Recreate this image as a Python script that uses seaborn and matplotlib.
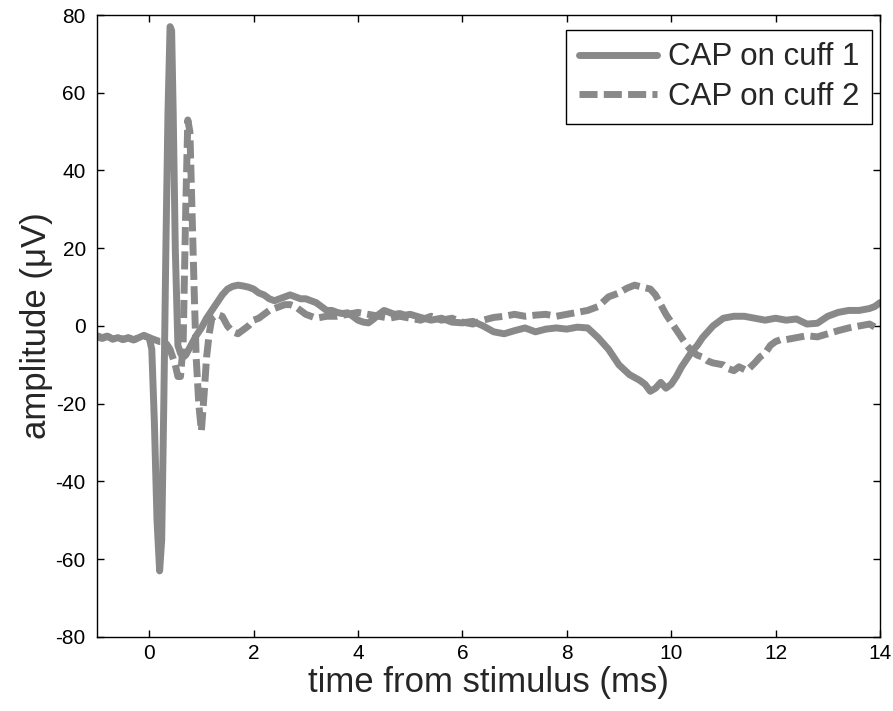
import numpy as np
import pandas as pd
import seaborn as sns
import matplotlib
matplotlib.use("Agg")
import matplotlib.pyplot as plt

# ---- data ----
t_cuff1 = [-1.0, -0.9, -0.8, -0.7, -0.6, -0.5, -0.4, -0.3, -0.2, -0.1, 0.0, 0.05, 0.1, 0.15, 0.2,
           0.24, 0.28, 0.32, 0.36, 0.4, 0.43, 0.46, 0.5, 0.55, 0.6, 0.65, 0.7, 0.8, 0.9, 1.0,
           1.1, 1.2, 1.3, 1.4, 1.5, 1.6, 1.7, 1.8, 1.9, 2.0, 2.1, 2.2, 2.3, 2.4, 2.5, 2.6, 2.7,
           2.8, 2.9, 3.0, 3.1, 3.2, 3.3, 3.4, 3.5, 3.6, 3.7, 3.8, 3.9, 4.0, 4.1, 4.2, 4.3, 4.4,
           4.5, 4.6, 4.7, 4.8, 4.9, 5.0, 5.2, 5.4, 5.6, 5.8, 6.0, 6.2, 6.4, 6.6, 6.8, 7.0, 7.2,
           7.4, 7.6, 7.8, 8.0, 8.2, 8.4, 8.6, 8.8, 9.0, 9.2, 9.4, 9.5, 9.6, 9.7, 9.8, 9.9, 10.0,
           10.1, 10.2, 10.3, 10.4, 10.5, 10.6, 10.7, 10.8, 10.9, 11.0, 11.2, 11.4, 11.6, 11.8,
           12.0, 12.2, 12.4, 12.6, 12.8, 13.0, 13.2, 13.4, 13.6, 13.8, 13.9, 14.0]
v_cuff1 = [-2.5, -3.0, -2.6, -3.4, -3.0, -3.5, -3.1, -3.6, -3.0, -2.4, -3.0, -6, -25, -50, -63,
           -55, -20, 20, 55, 77, 76, 55, 20, -5, -7, -8, -7.5, -5, -2.5, -0.5,
           2, 4, 6, 8, 9.5, 10.2, 10.5, 10.3, 10, 9.5, 8.5, 8, 7, 6.5, 7, 7.5, 8,
           7.5, 7, 7, 6.5, 6, 5, 4, 4, 3.5, 3.2, 3.4, 2.5, 1.5, 1, 0.8, 1.8, 3,
           4, 3.5, 3, 3.2, 2.8, 3, 2.2, 1.5, 2, 1, 0.8, 1.2, 0, -1.5, -2, -1.2, -0.5,
           -1.5, -0.8, -0.5, -0.8, -0.3, -0.5, -3, -6, -10, -12.5, -14, -15, -16.8, -16, -14.5, -16, -15,
           -13, -10.5, -8.5, -6.5, -5, -3, -1.5, 0, 1, 2, 2.5, 2.5, 2, 1.5,
           2, 1.5, 1.8, 0.5, 0.7, 2.5, 3.5, 4, 4, 4.5, 5, 6]

t_cuff2 = [-1.0, -0.9, -0.8, -0.7, -0.6, -0.5, -0.4, -0.3, -0.2, -0.1, 0.0, 0.1, 0.2, 0.3, 0.4,
           0.5, 0.55, 0.6, 0.65, 0.7, 0.74, 0.78, 0.82, 0.86, 0.9, 0.95, 1.0, 1.05, 1.1, 1.15,
           1.2, 1.3, 1.4, 1.5, 1.6, 1.7, 1.8, 1.9, 2.0, 2.1, 2.2, 2.3, 2.4, 2.5, 2.6, 2.7, 2.8,
           2.9, 3.0, 3.2, 3.4, 3.6, 3.8, 4.0, 4.2, 4.4, 4.6, 4.8, 5.0, 5.2, 5.4, 5.6, 5.8, 6.0,
           6.2, 6.4, 6.6, 6.8, 7.0, 7.2, 7.4, 7.6, 7.8, 8.0, 8.2, 8.4, 8.6, 8.8, 9.0, 9.15, 9.3,
           9.45, 9.6, 9.7, 9.8, 9.9, 10.0, 10.1, 10.2, 10.3, 10.4, 10.5, 10.6, 10.7, 10.8, 11.0,
           11.1, 11.2, 11.3, 11.45, 11.6, 11.7, 11.8, 11.9, 12.0, 12.1, 12.2, 12.4, 12.6, 12.8,
           13.0, 13.2, 13.4, 13.6, 13.8, 14.0]
v_cuff2 = [-2.8, -3.2, -2.7, -3.3, -3.1, -3.4, -3.0, -3.5, -3.1, -2.6, -3.0, -3.5, -4, -4, -6,
           -10, -13, -13, -5, 30, 53, 50, 30, 10, -8, -20, -27, -18, -8, -2,
           2, 3, 2.5, 0, -1.5, -2, -1, 0, 1.5, 2, 3, 4, 4.5, 5, 5.5, 5.5, 5,
           4, 3, 2, 2.5, 2.5, 3, 3.5, 3, 2.5, 2, 2.5, 2, 1.5, 2.5, 1.5, 2, 1,
           0.5, 1.5, 2.2, 2.5, 3, 2.5, 2.8, 3, 2.5, 3, 3.5, 4, 5, 7.5, 8.5, 9.7, 10.5,
           10, 9.5, 8, 5.5, 3, 1, -1, -3, -5, -6.5, -7.5, -8, -9, -9.5, -10,
           -11, -11.5, -10.5, -11.5, -9.5, -8, -7, -5, -4, -3.5, -3.5, -3, -2.5, -2.8,
           -2, -1.2, -0.5, 0, 0.5, -1]

x_ticks = [0, 2, 4, 6, 8, 10, 12, 14]
y_ticks = [-80, -60, -40, -20, 0, 20, 40, 60, 80]

df1 = pd.DataFrame({"t": t_cuff1, "v": v_cuff1})
df2 = pd.DataFrame({"t": t_cuff2, "v": v_cuff2})

sns.set_style("ticks")
plt.rcParams["font.family"] = ["Liberation Sans", "DejaVu Sans"]
plt.rcParams["axes.unicode_minus"] = False

fig = plt.figure(figsize=(8.93, 7.11), dpi=100)
ax = fig.add_axes([0.1086, 0.1041, 0.8768, 0.8748])

gray = "#898989"
sns.lineplot(data=df1, x="t", y="v", ax=ax, color=gray, lw=5, estimator=None,
             sort=False, label="CAP on cuff 1")
sns.lineplot(data=df2, x="t", y="v", ax=ax, color=gray, lw=5, estimator=None,
             sort=False, label="CAP on cuff 2", linestyle=(0, (2.6, 0.9)))

ax.set_xlim(-1, 14)
ax.set_ylim(-80, 80)
ax.set_xticks(x_ticks)
ax.set_yticks(y_ticks)
ax.tick_params(direction="in", length=5, width=1, top=True, right=True,
               colors="black", labelsize=15)
ax.tick_params(axis="x", pad=5)
ax.tick_params(axis="y", pad=8)
for s in ax.spines.values():
    s.set_visible(True)
    s.set_color("black")
    s.set_linewidth(1)

ax.set_xlabel("time from stimulus (ms)", fontsize=25, labelpad=2)
ax.set_ylabel("amplitude (\u03bcV)", fontsize=25, labelpad=2)

leg = ax.legend(loc="upper right", bbox_to_anchor=(0.9898, 0.9759),
                borderaxespad=0, fontsize=22.5, frameon=True, fancybox=False,
                edgecolor="black", framealpha=1, handlelength=2.5, borderpad=0.4,
                labelspacing=0.3, handletextpad=0.35)
leg.get_frame().set_linewidth(1)

fig.savefig("out.png", dpi=100)
